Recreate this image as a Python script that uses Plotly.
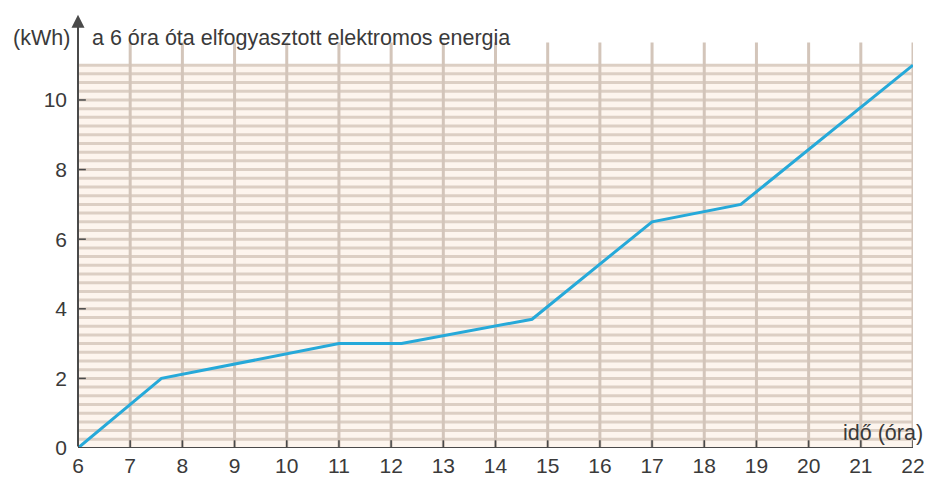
import plotly.graph_objects as go

# data
hours = [6, 7.6, 11, 12.2, 14.7, 17, 18.7, 22]
energy_kwh = [0, 2.0, 3.0, 3.0, 3.7, 6.5, 7.0, 11.0]

x_ticks = list(range(6, 23))
y_ticks = [0, 2, 4, 6, 8, 10]
h_grid = [i * 0.25 for i in range(1, 45)]   # every 0.25 kWh up to 11
v_grid = list(range(7, 23))

title_text = "a 6 óra óta elfogyasztott elektromos energia"
y_unit = "(kWh)"
x_label = "idő (óra)"

X0, X1 = 6, 22
GRID_TOP = 11.0
VGRID_TOP = 11.65
AXIS = "#4a4a4a"
TXT = "#3a3a3a"
FONT = "Liberation Sans, Arial, sans-serif"
FS = 21
FS_T = 21.5

fig = go.Figure()

shapes = []
shapes.append(dict(type="rect", xref="x", yref="y", x0=X0, x1=X1, y0=0, y1=GRID_TOP,
                   fillcolor="#fdf5ee", line=dict(width=0), layer="below"))
for yv in h_grid:
    shapes.append(dict(type="line", xref="x", yref="y", x0=X0, x1=X1, y0=yv, y1=yv,
                       line=dict(color="#dccfc4", width=3), layer="below"))
for xv in v_grid:
    shapes.append(dict(type="line", xref="x", yref="y", x0=xv, x1=xv, y0=0, y1=VGRID_TOP,
                       line=dict(color="#d3c5ba", width=3), layer="below"))
shapes.append(dict(type="line", xref="x", yref="y", x0=X0, x1=X1, y0=0, y1=0,
                   line=dict(color=AXIS, width=2)))
for xv in x_ticks:
    shapes.append(dict(type="line", xref="x", yref="y", x0=xv, x1=xv, y0=-0.22, y1=0.22,
                       line=dict(color=AXIS, width=1.5)))
for yv in y_ticks:
    shapes.append(dict(type="line", xref="x", yref="y", x0=X0 - 0.15, x1=X0 + 0.15, y0=yv, y1=yv,
                       line=dict(color=AXIS, width=1.5)))

fig.add_trace(go.Scatter(x=hours, y=energy_kwh, mode="lines",
                         line=dict(color="#26a9d9", width=3), hoverinfo="skip",
                         showlegend=False, cliponaxis=False))

annotations = [
    dict(x=X0, y=12.45, ax=X0, ay=0, xref="x", yref="y", axref="x", ayref="y",
         showarrow=True, arrowhead=2, arrowsize=1.3, arrowwidth=2, arrowcolor=AXIS, text=""),
    dict(x=X0, y=11.78, xref="x", yref="y", text=y_unit, showarrow=False,
         xanchor="right", yanchor="middle", xshift=-6, font=dict(size=FS_T, color=TXT, family=FONT)),
    dict(x=X0, y=11.78, xref="x", yref="y", text=title_text, showarrow=False,
         xanchor="left", yanchor="middle", xshift=12, font=dict(size=FS_T, color=TXT, family=FONT)),
    dict(x=X1, y=0.43, xref="x", yref="y", text=x_label, showarrow=False,
         xanchor="right", yanchor="middle", xshift=12, font=dict(size=FS_T, color=TXT, family=FONT)),
]

fig.update_layout(
    width=927, height=477,
    margin=dict(l=78, r=14, t=6, b=29, autoexpand=False),
    paper_bgcolor="white", plot_bgcolor="white",
    shapes=shapes, annotations=annotations,
    xaxis=dict(range=[X0, X1], tickvals=x_ticks, ticktext=[str(v) for v in x_ticks],
               showgrid=False, zeroline=False, showline=False, ticks="",
               tickfont=dict(size=FS, color=TXT, family=FONT), ticklabelstandoff=3),
    yaxis=dict(range=[0, 12.7], tickvals=y_ticks, ticktext=[str(v) for v in y_ticks],
               showgrid=False, zeroline=False, showline=False, ticks="",
               tickfont=dict(size=FS, color=TXT, family=FONT), ticklabelstandoff=10),
)

fig.write_html("out.html", config={"displayModeBar": False},
               post_script="document.body.style.margin='0';")
